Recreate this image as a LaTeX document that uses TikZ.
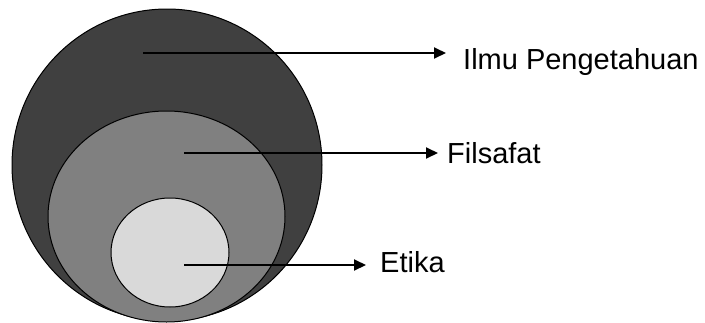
\documentclass[tikz,border=0pt]{standalone}
\usepackage{fontspec}
\setmainfont{Liberation Sans}
\usetikzlibrary{arrows.meta}
\definecolor{cdark}{HTML}{404040}
\definecolor{cmid}{HTML}{808080}
\definecolor{clight}{HTML}{D9D9D9}
\begin{document}
\begin{tikzpicture}[x=1pt,y=-1pt,
  ring/.style={draw=black,line width=1pt},
  arr/.style={line width=2pt,-{Triangle[length=12pt,width=11pt]}},
  lbl/.style={font=\fontsize{29}{34}\selectfont,inner sep=0pt,anchor=base west}]
\useasboundingbox (0,0) rectangle (705,322);
\begin{scope}
\clip (0,0) rectangle (705,322);
\draw[ring,fill=cdark] (167,165) ellipse [x radius=155, y radius=156];
\draw[ring,fill=cmid] (166.5,216.5) ellipse [x radius=118.5, y radius=105.5];
\draw[ring,fill=clight] (170,252.5) ellipse [x radius=59, y radius=54.5];
\end{scope}
\coordinate (s1) at (143,53);
\coordinate (s2) at (184,153);
\coordinate (s3) at (184,265);
\node[lbl] (l1) at (463,69) {Ilmu Pengetahuan};
\node[lbl] (l2) at (447,163) {Filsafat};
\node[lbl] (l3) at (380,272) {Etika};
\draw[arr,shorten >=17pt] (s1) -- (s1 -| l1.west);
\draw[arr,shorten >=9pt] (s2) -- (s2 -| l2.west);
\draw[arr,shorten >=14pt] (s3) -- (s3 -| l3.west);
\end{tikzpicture}
\end{document}
